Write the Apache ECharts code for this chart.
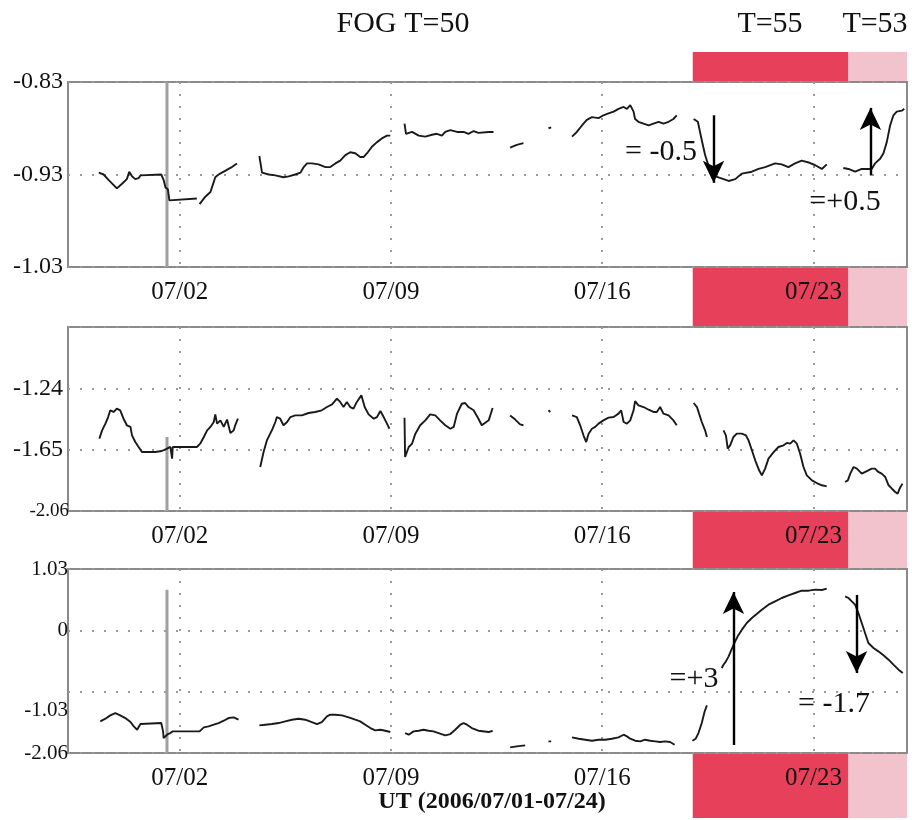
<!DOCTYPE html>
<html><head><meta charset="utf-8">
<script src="https://cdn.jsdelivr.net/npm/echarts@6/dist/echarts.min.js"></script>
<style>html,body{margin:0;padding:0;background:#fff}#c{width:912px;height:820px}</style>
</head><body><div id="c"></div>
<script>
// ---- axis / tick data ----
const dateTickValues = [1, 8, 15, 22];
const dateTickLabels = ['07/02', '07/09', '07/16', '07/23'];
const xMin = -2.7, xMax = 25.1;
const topTicks = [-1.03, -0.93, -0.83];
const midTicks = [-2.06, -1.65, -1.24, -0.83];
const midLabels = [-2.06, -1.65, -1.24];
const botTicks = [-2.06, -1.03, 0, 1.03];

// ---- period bands ----
const bandStart = [18.0, 23.16];
const bandEnd = [23.16, 25.1];
const bandNames = ['T=55', 'T=53'];

// ---- spike (data glitch near 07/01) ----
const spikeDay = 0.58;
const topSpike = [[spikeDay, -0.83], [spikeDay, -1.03]];
const midSpike = [[spikeDay, -1.565], [spikeDay, -2.06]];
const botSpike = [[spikeDay, 0.683], [spikeDay, -2.06]];

// ---- panel 1 ----
const topSegs = [
 [[-1.68,-0.928],[-1.52,-0.930],[-1.35,-0.936],[-1.08,-0.945],[-0.91,-0.940],[-0.75,-0.935],[-0.67,-0.927],[-0.58,-0.932],[-0.47,-0.935],[-0.36,-0.934],[-0.30,-0.931],[0.39,-0.930],[0.47,-0.936],[0.53,-0.944],[0.61,-0.946],[0.66,-0.958],[1.57,-0.956]],
 [[1.66,-0.962],[1.85,-0.954],[2.02,-0.949],[2.13,-0.938],[2.18,-0.933],[2.29,-0.930],[2.40,-0.928],[2.51,-0.926],[2.62,-0.924],[2.73,-0.922],[2.90,-0.918]],
 [[3.64,-0.910],[3.73,-0.928],[3.95,-0.930],[4.17,-0.931],[4.44,-0.933],[4.61,-0.932],[4.83,-0.930],[5.00,-0.928],[5.11,-0.922],[5.22,-0.918],[5.38,-0.918],[5.60,-0.919],[5.83,-0.922],[5.99,-0.922],[6.16,-0.918],[6.32,-0.915],[6.49,-0.909],[6.65,-0.906],[6.82,-0.907],[6.98,-0.911],[7.10,-0.911],[7.21,-0.907],[7.37,-0.900],[7.54,-0.895],[7.70,-0.891],[7.87,-0.888],[7.98,-0.888]],
 [[8.45,-0.875],[8.50,-0.886],[8.70,-0.884],[8.92,-0.888],[9.14,-0.889],[9.36,-0.887],[9.52,-0.886],[9.69,-0.888],[9.80,-0.884],[9.97,-0.882],[10.19,-0.884],[10.41,-0.884],[10.57,-0.886],[10.74,-0.883],[10.90,-0.885],[11.24,-0.884],[11.40,-0.884]],
 [[11.95,-0.901],[12.17,-0.898],[12.39,-0.896]],
 [[13.22,-0.880],[13.31,-0.879]],
 [[14.00,-0.889],[14.16,-0.884],[14.33,-0.877],[14.49,-0.871],[14.66,-0.868],[14.88,-0.869],[15.04,-0.866],[15.21,-0.864],[15.38,-0.862],[15.54,-0.859],[15.71,-0.857],[15.82,-0.859],[15.93,-0.855],[16.04,-0.862],[16.09,-0.870],[16.20,-0.873],[16.37,-0.875],[16.54,-0.877],[16.70,-0.875],[16.87,-0.873],[17.03,-0.875],[17.20,-0.873],[17.36,-0.870],[17.47,-0.866]],
 [[18.03,-0.870],[18.17,-0.873],[18.30,-0.893],[18.41,-0.909],[18.52,-0.920],[18.66,-0.931],[19.02,-0.935],[19.19,-0.937],[19.41,-0.935],[19.63,-0.929],[19.96,-0.927],[20.18,-0.924],[20.40,-0.922],[20.73,-0.918],[20.95,-0.919],[21.17,-0.922],[21.39,-0.918],[21.61,-0.915],[21.84,-0.917],[22.06,-0.920],[22.28,-0.924],[22.44,-0.919]],
 [[22.99,-0.923],[23.16,-0.924],[23.38,-0.927],[23.60,-0.924],[23.82,-0.924],[23.93,-0.924],[24.04,-0.918],[24.21,-0.913],[24.32,-0.907],[24.43,-0.895],[24.54,-0.877],[24.65,-0.866],[24.76,-0.862],[24.93,-0.861],[25.01,-0.859]]
];

// ---- panel 2 ----
const midSegs = [
 [[-1.66,-1.576],[-1.57,-1.521],[-1.46,-1.476],[-1.37,-1.432],[-1.30,-1.387],[-1.19,-1.398],[-1.08,-1.376],[-0.97,-1.387],[-0.86,-1.443],[-0.75,-1.487],[-0.63,-1.498],[-0.58,-1.554],[-0.47,-1.599],[-0.36,-1.632],[-0.25,-1.666],[-0.03,-1.666],[0.19,-1.666],[0.41,-1.659],[0.58,-1.643],[0.69,-1.632],[0.75,-1.710],[0.77,-1.632],[1.57,-1.632],[1.68,-1.610],[1.80,-1.565],[1.91,-1.521],[2.02,-1.498],[2.13,-1.465],[2.18,-1.414],[2.24,-1.476],[2.35,-1.454],[2.46,-1.498],[2.57,-1.449],[2.68,-1.539],[2.79,-1.521],[2.84,-1.487],[2.93,-1.443]],
 [[3.67,-1.766],[3.78,-1.666],[3.89,-1.588],[4.00,-1.543],[4.08,-1.510],[4.17,-1.465],[4.22,-1.432],[4.33,-1.443],[4.44,-1.487],[4.56,-1.465],[4.67,-1.432],[4.83,-1.421],[5.05,-1.421],[5.27,-1.405],[5.49,-1.398],[5.71,-1.387],[5.88,-1.365],[6.05,-1.347],[6.21,-1.309],[6.32,-1.331],[6.43,-1.365],[6.54,-1.331],[6.65,-1.365],[6.76,-1.376],[6.87,-1.331],[7.02,-1.287],[7.13,-1.365],[7.26,-1.414],[7.43,-1.443],[7.54,-1.432],[7.65,-1.392],[7.76,-1.432],[7.87,-1.476],[7.95,-1.510]],
 [[8.45,-1.436],[8.47,-1.699],[8.59,-1.632],[8.70,-1.610],[8.81,-1.543],[8.97,-1.487],[9.14,-1.454],[9.30,-1.414],[9.47,-1.421],[9.63,-1.454],[9.80,-1.487],[9.97,-1.510],[10.08,-1.498],[10.19,-1.409],[10.35,-1.343],[10.46,-1.338],[10.57,-1.365],[10.74,-1.387],[10.90,-1.443],[11.01,-1.487],[11.24,-1.454],[11.37,-1.371]],
 [[11.95,-1.421],[12.12,-1.449],[12.28,-1.481],[12.39,-1.487]],
 [[13.22,-1.387],[13.28,-1.398]],
 [[14.00,-1.421],[14.16,-1.432],[14.27,-1.487],[14.38,-1.554],[14.47,-1.599],[14.55,-1.543],[14.66,-1.510],[14.77,-1.498],[14.88,-1.476],[15.04,-1.454],[15.21,-1.436],[15.38,-1.432],[15.54,-1.409],[15.63,-1.387],[15.71,-1.465],[15.82,-1.476],[15.93,-1.454],[16.04,-1.387],[16.09,-1.325],[16.20,-1.354],[16.37,-1.365],[16.54,-1.383],[16.70,-1.398],[16.81,-1.398],[16.92,-1.365],[17.03,-1.409],[17.20,-1.421],[17.36,-1.454],[17.47,-1.487]],
 [[18.03,-1.338],[18.14,-1.365],[18.21,-1.409],[18.30,-1.465],[18.41,-1.521],[18.47,-1.565]],
 [[19.02,-1.521],[19.10,-1.554],[19.16,-1.643],[19.24,-1.621],[19.35,-1.565],[19.46,-1.543],[19.63,-1.543],[19.76,-1.554],[19.85,-1.588],[19.96,-1.654],[20.07,-1.721],[20.20,-1.788],[20.29,-1.822],[20.40,-1.777],[20.51,-1.710],[20.68,-1.666],[20.84,-1.632],[21.01,-1.621],[21.12,-1.605],[21.23,-1.610],[21.34,-1.588],[21.45,-1.610],[21.56,-1.677],[21.67,-1.766],[21.78,-1.822],[21.95,-1.855],[22.11,-1.873],[22.28,-1.888],[22.44,-1.895]],
 [[23.05,-1.866],[23.14,-1.855],[23.22,-1.810],[23.33,-1.766],[23.44,-1.777],[23.60,-1.810],[23.77,-1.793],[23.93,-1.777],[24.04,-1.777],[24.15,-1.799],[24.26,-1.810],[24.38,-1.833],[24.49,-1.888],[24.60,-1.911],[24.71,-1.933],[24.79,-1.944],[24.87,-1.904],[24.95,-1.877]]
];

// ---- panel 3 ----
const botSegs = [
 [[-1.63,-1.529],[-1.46,-1.484],[-1.30,-1.428],[-1.13,-1.389],[-0.97,-1.428],[-0.80,-1.473],[-0.63,-1.540],[-0.52,-1.613],[-0.41,-1.669],[-0.30,-1.574],[0.39,-1.557],[0.45,-1.697],[0.47,-1.809],[0.53,-1.837],[0.61,-1.742],[0.69,-1.725],[0.77,-1.697],[1.57,-1.697],[1.66,-1.697],[1.80,-1.630],[1.96,-1.613],[2.13,-1.585],[2.29,-1.557],[2.46,-1.518],[2.62,-1.473],[2.79,-1.462],[2.95,-1.501]],
 [[3.64,-1.596],[3.84,-1.585],[4.06,-1.574],[4.28,-1.557],[4.50,-1.529],[4.72,-1.501],[4.94,-1.484],[5.16,-1.501],[5.38,-1.540],[5.55,-1.574],[5.71,-1.540],[5.88,-1.445],[5.99,-1.417],[6.16,-1.417],[6.38,-1.428],[6.60,-1.462],[6.82,-1.501],[6.98,-1.529],[7.15,-1.585],[7.32,-1.641],[7.48,-1.680],[7.65,-1.669],[7.81,-1.686],[7.98,-1.708]],
 [[8.47,-1.725],[8.59,-1.753],[8.75,-1.697],[8.92,-1.686],[9.08,-1.669],[9.25,-1.686],[9.41,-1.697],[9.58,-1.725],[9.80,-1.764],[9.97,-1.742],[10.13,-1.669],[10.30,-1.585],[10.41,-1.557],[10.52,-1.585],[10.68,-1.641],[10.90,-1.686],[11.24,-1.708],[11.37,-1.686]],
 [[11.95,-1.966],[12.17,-1.949],[12.45,-1.932]],
 [[13.22,-1.865],[13.31,-1.865]],
 [[14.00,-1.798],[14.22,-1.820],[14.44,-1.837],[14.66,-1.854],[14.88,-1.837],[15.10,-1.837],[15.32,-1.820],[15.54,-1.798],[15.71,-1.753],[15.82,-1.781],[15.93,-1.820],[16.09,-1.854],[16.26,-1.865],[16.42,-1.837],[16.59,-1.854],[16.76,-1.865],[16.92,-1.876],[17.09,-1.865],[17.25,-1.876],[17.40,-1.921]],
 [[17.99,-1.854],[18.10,-1.820],[18.19,-1.725],[18.30,-1.557],[18.39,-1.372],[18.47,-1.260]],
 [[18.96,-0.633],[19.02,-0.577],[19.10,-0.521],[19.19,-0.437],[19.27,-0.342],[19.38,-0.213],[19.49,-0.101],[19.63,0.011],[19.79,0.123],[19.96,0.207],[20.12,0.274],[20.29,0.347],[20.51,0.431],[20.73,0.487],[20.95,0.543],[21.17,0.588],[21.39,0.627],[21.61,0.666],[21.84,0.666],[22.06,0.683],[22.28,0.677],[22.44,0.700]],
 [[23.05,0.571],[23.16,0.543],[23.27,0.487],[23.38,0.431],[23.49,0.291],[23.60,0.123],[23.71,-0.045],[23.82,-0.213],[23.99,-0.297],[24.15,-0.353],[24.32,-0.420],[24.49,-0.493],[24.65,-0.577],[24.82,-0.661],[24.96,-0.717]]
];

// ---- change arrows (day, from, to) ----
const topArrows = [[18.69, -0.866, -0.939], [23.89, -0.931, -0.858]];
const botArrows = [[19.35, -1.926, 0.644], [23.43, 0.593, -0.717]];

// ---------- build ----------
const SERIF = 'Liberation Serif';
function joinSegs(segs) {
  const out = [];
  segs.forEach((s, i) => { if (i) out.push([s[0][0], null]); s.forEach(p => out.push(p)); });
  return out;
}
const grids = [
  {left: 68, right: 5, top: 82, height: 185},
  {left: 68, right: 5, top: 327, height: 184},
  {left: 68, right: 5, top: 569, height: 184}
].map(g => Object.assign(g, {show: true, backgroundColor: '#ffffff', borderColor: '#8a8a8a', borderWidth: 2, containLabel: false}));
grids.push({left: 68, right: 5, top: 52, bottom: 2, show: false});

const dotted = {type: [2, 10], color: '#999999', width: 2};
function xAx(i) {
  return {
    type: 'value', gridIndex: i, min: xMin, max: xMax,
    axisLine: {show: false}, axisTick: {show: false, customValues: dateTickValues},
    splitLine: {show: true, lineStyle: dotted},
    axisLabel: {customValues: dateTickValues, margin: 13, fontFamily: SERIF, fontSize: 25, color: '#111',
      formatter: v => dateTickLabels[dateTickValues.indexOf(Math.round(v))] || ''}
  };
}
function yAx(i, min, max, ticks, labels, extra) {
  return Object.assign({
    type: 'value', gridIndex: i, min: min, max: max,
    axisLine: {show: false}, axisTick: {show: false, customValues: ticks},
    splitLine: {show: true, lineStyle: dotted}
  }, extra, {axisLabel: Object.assign({customValues: labels, fontFamily: SERIF, color: '#111'}, extra.axisLabel)});
}
const xAxes = [xAx(0), xAx(1), xAx(2), {type: 'value', gridIndex: 3, min: xMin, max: xMax, show: false}];
const yAxes = [
  yAx(0, -1.03, -0.83, topTicks, topTicks, {axisLabel: {fontSize: 24, margin: 5, formatter: v => v.toFixed(2)}}),
  yAx(1, -2.06, -0.83, midTicks, midLabels, {axisLabel: {fontSize: 24, margin: 5,
    formatter: v => Math.abs(v + 2.06) < 1e-6 ? '{s|' + v.toFixed(2) + '}' : v.toFixed(2),
    rich: {s: {fontFamily: SERIF, fontSize: 19, color: '#111', padding: [0, -6, 0, 0]}}}}),
  yAx(2, -2.06, 1.03, botTicks, botTicks, {axisLabel: {fontSize: 21, margin: 0,
    formatter: v => Math.abs(v + 1.03) < 1e-6 ? '{low|-1.03}' : (v === 0 ? '0' : v.toFixed(2)),
    rich: {low: {fontFamily: SERIF, fontSize: 21, color: '#111', padding: [38, 0, 0, 0]}}}}),
  {type: 'value', gridIndex: 3, min: 0, max: 1, show: false}
];

const bandColors = ['#e6405a', '#f2c2cd'];
const series = [{
  type: 'custom', xAxisIndex: 3, yAxisIndex: 3, z: -10, silent: true,
  data: bandStart.map((s, i) => [s, bandEnd[i]]),
  encode: {x: [0, 1]},
  renderItem: (params, api) => {
    const a = api.coord([api.value(0), 1]);
    const b = api.coord([api.value(1), 0]);
    return {type: 'rect', shape: {x: a[0], y: a[1], width: b[0] - a[0], height: b[1] - a[1]},
      style: {fill: bandColors[params.dataIndex]}};
  }
}];
function arrowMark(arr) {
  return {
    silent: true, symbol: ['none', 'arrow'], symbolSize: [16, 22], animation: false,
    lineStyle: {color: '#000', width: 2.4, type: 'solid'}, label: {show: false},
    data: arr.map(a => [{coord: [a[0], a[1]]}, {coord: [a[0], a[2]]}])
  };
}
const panelSegs = [topSegs, midSegs, botSegs];
const spikes = [topSpike, midSpike, botSpike];
[0, 1, 2].forEach(i => {
  series.push({type: 'line', xAxisIndex: i, yAxisIndex: i, data: spikes[i], showSymbol: false, silent: true,
    lineStyle: {color: '#a0a0a0', width: 3}, z: 3});
  const s = {type: 'line', xAxisIndex: i, yAxisIndex: i, data: joinSegs(panelSegs[i]), showSymbol: false,
    connectNulls: false, silent: true, lineStyle: {color: '#1a1a1a', width: 1.9}, z: 4};
  if (i === 0) s.markLine = arrowMark(topArrows);
  if (i === 2) s.markLine = arrowMark(botArrows);
  series.push(s);
});

const txt = (x, y, t, size, extra) => ({type: 'text', x: x, y: y, z: 100,
  style: Object.assign({text: t, fontFamily: SERIF, fontSize: size, fill: '#111', align: 'center', verticalAlign: 'middle'}, extra || {})});

const chart = echarts.init(document.getElementById('c'), null, {renderer: 'canvas'});
chart.setOption({
  animation: false,
  backgroundColor: '#ffffff',
  grid: grids, xAxis: xAxes, yAxis: yAxes, series: series,
  graphic: [
    txt(403, 24, 'FOG T=50', 30),
    txt(770, 24, bandNames[0], 30),
    txt(875, 24, bandNames[1], 30),
    txt(661, 152, '= -0.5', 30),
    txt(845, 202, '=+0.5', 30),
    txt(694, 679, '=+3', 30),
    txt(834, 704, '= -1.7', 30),
    txt(492, 802, 'UT (2006/07/01-07/24)', 24, {fontWeight: 'bold'})
  ]
});
</script></body></html>
